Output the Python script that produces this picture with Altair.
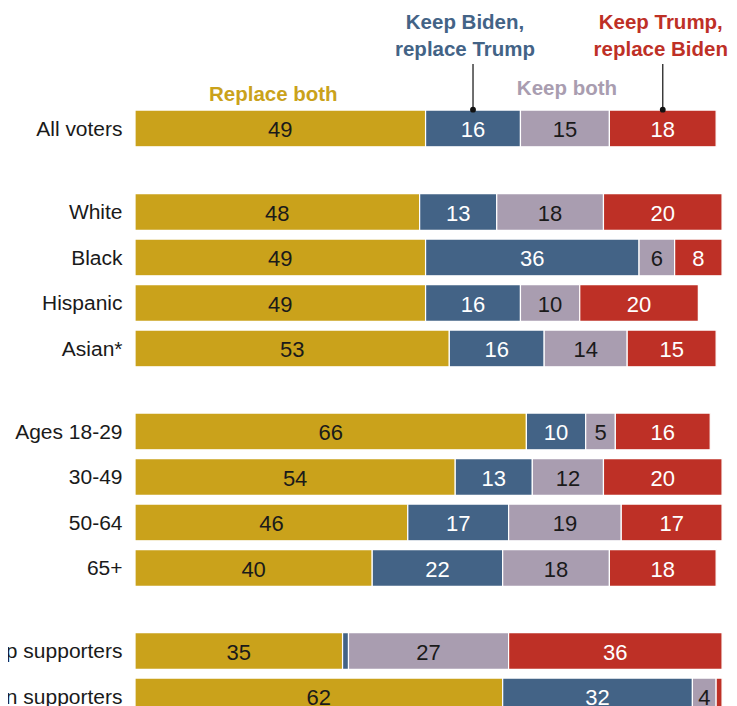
import altair as alt
import pandas as pd

# ---- data -------------------------------------------------------------
group_categories = [
    ["All voters"],
    ["White", "Black", "Hispanic", "Asian*"],
    ["Ages 18-29", "30-49", "50-64", "65+"],
    ["Trump supporters", "Biden supporters"],
]
responses = ["Replace both", "Keep Biden, replace Trump", "Keep both", "Keep Trump, replace Biden"]
replace_both = [49, 48, 49, 49, 53, 66, 54, 46, 40, 35, 62]
keep_biden_replace_trump = [16, 13, 36, 16, 16, 10, 13, 17, 22, 1, 32]
keep_both = [15, 18, 6, 10, 14, 5, 12, 19, 18, 27, 4]
keep_trump_replace_biden = [18, 20, 8, 20, 15, 16, 20, 17, 18, 36, 1]

colors = ["#CAA21B", "#436386", "#A99DB0", "#BE3026"]
value_text_colors = ["#1a1a1a", "#ffffff", "#1a1a1a", "#ffffff"]

series = [replace_both, keep_biden_replace_trump, keep_both, keep_trump_replace_biden]
flat_categories = [c for g in group_categories for c in g]

rows = []
for ci, cat in enumerate(flat_categories):
    for ri, resp in enumerate(responses):
        rows.append({
            "category": cat,
            "response": resp,
            "order": ri,
            "value": series[ri][ci],
            "tcolor": value_text_colors[ri],
        })
df = pd.DataFrame(rows)

FONT = "Liberation Sans"
STEP = 45.5
xscale = alt.Scale(domain=[-21.42, 100], nice=False, zero=False)


def panel(cats, extra_layers=()):
    d = df[df["category"].isin(cats)]
    y = alt.Y("category:N", sort=cats, axis=None,
              scale=alt.Scale(paddingInner=0.193, paddingOuter=0.0965))
    base = alt.Chart(d).transform_stack(
        stack="value", as_=["x0", "x1"], groupby=["category"],
        sort=[alt.SortField("order", order="ascending")],
    ).transform_calculate(mid="(datum.x0 + datum.x1) / 2")

    bars = base.mark_bar(stroke="white", strokeWidth=1.2).encode(
        x=alt.X("x0:Q", scale=xscale, axis=None),
        x2="x1:Q",
        y=y,
        color=alt.Color("response:N", scale=alt.Scale(domain=responses, range=colors), legend=None),
    )
    vals = base.transform_filter("datum.value >= 2").mark_text(
        font=FONT, fontSize=22, baseline="middle", align="center", dy=2
    ).encode(
        x=alt.X("mid:Q", scale=xscale, axis=None),
        y=y,
        text="value:Q",
        color=alt.Color("tcolor:N", scale=None),
    )
    labels = base.transform_filter("datum.order == 0").mark_text(
        font=FONT, fontSize=21, align="right", baseline="middle", dx=-12.5, dy=1.5,
        clip=True, color="#1a1a1a",
    ).encode(
        x=alt.X("x0:Q", scale=xscale, axis=None),
        y=y,
        text="category:N",
    )
    return alt.layer(bars, vals, labels, *extra_layers).properties(
        width=720, height=alt.Step(STEP)
    )


# ---- header annotations (above the "All voters" bar) --------------------
all_vals = [s[0] for s in series]
seg_start = [sum(all_vals[:i]) for i in range(4)]
seg_mid = [s + v / 2 for s, v in zip(seg_start, all_vals)]
ann_style = [(-7, -5.1), (-8, -76.9), (2, -11.1), (-2, -76.9)]  # (dx, first baseline y)

ann_layers = []
for i, resp in enumerate(responses):
    dx, yy = ann_style[i]
    adf = pd.DataFrame({"x": [seg_mid[i]], "t": [resp.replace(", ", ",\n")]})
    ann_layers.append(
        alt.Chart(adf).mark_text(
            font=FONT, fontWeight="bold", fontSize=20.5, color=colors[i],
            align="center", baseline="alphabetic", dx=dx, lineBreak="\n", lineHeight=27.3,
        ).encode(x=alt.X("x:Q", scale=xscale, axis=None), y=alt.value(yy), text="t:N")
    )
    if i in (1, 3):
        ann_layers.append(
            alt.Chart(adf).mark_rule(color="#222222", strokeWidth=1.3).encode(
                x=alt.X("x:Q", scale=xscale, axis=None), y=alt.value(-41.6), y2=alt.value(4)
            )
        )
        ann_layers.append(
            alt.Chart(adf).mark_point(filled=True, size=34, color="#111111", opacity=1).encode(
                x=alt.X("x:Q", scale=xscale, axis=None), y=alt.value(4)
            )
        )

panels = [panel(group_categories[0], ann_layers)] + [panel(g) for g in group_categories[1:]]

chart = alt.vconcat(*panels, spacing=37.5, bounds="flush").properties(
    padding={"left": 0, "top": 4.7, "right": 0, "bottom": 0}
).configure_view(stroke=None)

chart.save("out.html", embed_options={"renderer": "svg", "actions": False})
